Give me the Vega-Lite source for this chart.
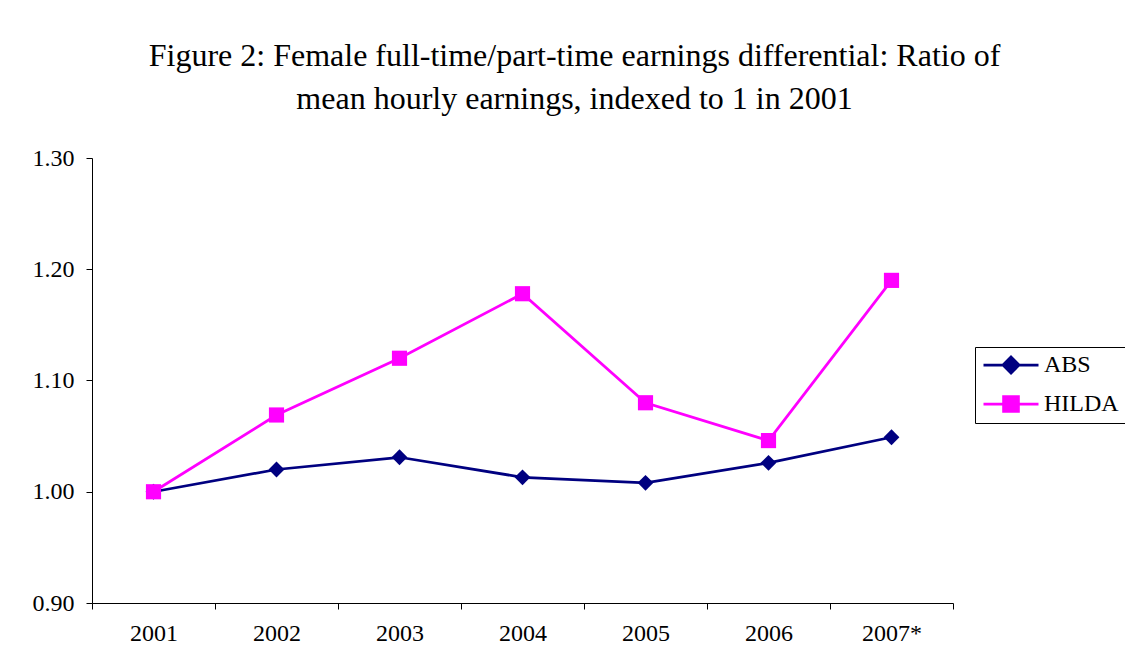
{
  "$schema": "https://vega.github.io/schema/vega-lite/v6.json",
  "width": 861,
  "height": 445,
  "autosize": "none",
  "padding": {"left": 92, "top": 158, "right": 172, "bottom": 68},
  "background": "white",
  "title": {
    "text": ["Figure 2: Female full-time/part-time earnings differential: Ratio of", "mean hourly earnings, indexed to 1 in 2001"],
    "font": "Liberation Serif",
    "fontSize": 32,
    "fontWeight": "normal",
    "color": "black",
    "anchor": "middle",
    "frame": "group",
    "dx": 52,
    "lineHeight": 43,
    "offset": 30
  },
  "data": {
    "values": [
      {"year": "2001", "series": "ABS", "value": 1.000},
      {"year": "2002", "series": "ABS", "value": 1.020},
      {"year": "2003", "series": "ABS", "value": 1.031},
      {"year": "2004", "series": "ABS", "value": 1.013},
      {"year": "2005", "series": "ABS", "value": 1.008},
      {"year": "2006", "series": "ABS", "value": 1.026},
      {"year": "2007*", "series": "ABS", "value": 1.049},
      {"year": "2001", "series": "HILDA", "value": 1.000},
      {"year": "2002", "series": "HILDA", "value": 1.069},
      {"year": "2003", "series": "HILDA", "value": 1.120},
      {"year": "2004", "series": "HILDA", "value": 1.178},
      {"year": "2005", "series": "HILDA", "value": 1.080},
      {"year": "2006", "series": "HILDA", "value": 1.046},
      {"year": "2007*", "series": "HILDA", "value": 1.190}
    ]
  },
  "encoding": {
    "x": {
      "field": "year",
      "type": "ordinal",
      "bandPosition": 0.5,
      "scale": {"type": "band", "paddingInner": 0, "paddingOuter": 0},
      "axis": {"title": null, "labelAngle": 0, "tickBand": "extent", "labelPadding": 12}
    },
    "y": {
      "field": "value",
      "type": "quantitative",
      "scale": {"domain": [0.9, 1.3], "zero": false, "nice": false},
      "axis": {"title": null, "values": [0.9, 1.0, 1.1, 1.2, 1.3], "format": ".2f", "grid": false, "labelPadding": 12}
    },
    "color": {
      "field": "series",
      "type": "nominal",
      "scale": {"domain": ["ABS", "HILDA"], "range": ["#000080", "#FF00FF"]},
      "legend": {
        "title": null,
        "orient": "none",
        "legendX": 883,
        "legendY": 189,
        "strokeColor": "black",
        "fillColor": "white",
        "padding": 7,
        "symbolSize": 3025,
        "clipHeight": 22,
        "rowPadding": 15,
        "symbolOffset": 0,
        "labelOffset": 4,
        "symbolStrokeWidth": 2.75,
        "labelFont": "Liberation Serif",
        "labelFontSize": 24,
        "labelColor": "black",
        "encode": {
          "symbols": {
            "update": {
              "shape": {"signal": "datum.value === 'ABS' ? 'M-1,0L1,0M0,-0.29L0.29,0L0,0.29L-0.29,0Z' : 'M-1,0L1,0M-0.27,-0.27L0.27,-0.27L0.27,0.27L-0.27,0.27Z'"},
              "fill": {"signal": "datum.value === 'ABS' ? '#000080' : '#FF00FF'"},
              "stroke": {"signal": "datum.value === 'ABS' ? '#000080' : '#FF00FF'"},
              "strokeWidth": {"value": 2.75},
              "size": {"value": 3025},
              "opacity": {"value": 1}
            }
          }
        }
      }
    }
  },
  "layer": [
    {
      "mark": {"type": "line", "strokeWidth": 2.75}
    },
    {
      "transform": [{"filter": "datum.series === 'ABS'"}],
      "mark": {"type": "point", "filled": true, "opacity": 1, "size": 250, "shape": "diamond"}
    },
    {
      "transform": [{"filter": "datum.series === 'HILDA'"}],
      "mark": {"type": "point", "filled": true, "opacity": 1, "size": 230, "shape": "square"}
    }
  ],
  "config": {
    "view": {"stroke": null},
    "axis": {
      "domainColor": "black",
      "tickColor": "black",
      "labelColor": "black",
      "labelFont": "Liberation Serif",
      "labelFontSize": 24,
      "tickSize": 6,
      "domainWidth": 1,
      "tickWidth": 1
    }
  }
}
